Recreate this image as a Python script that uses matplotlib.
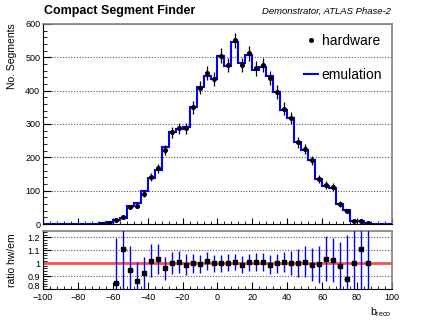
import matplotlib
matplotlib.use("Agg")
import matplotlib.pyplot as plt
import matplotlib.transforms as mtransforms
import numpy as np
from matplotlib.lines import Line2D
from matplotlib.ticker import MultipleLocator

plt.rcParams["font.family"] = ["Liberation Sans", "DejaVu Sans"]
plt.rcParams["mathtext.fontset"] = "custom"
plt.rcParams["mathtext.rm"] = "Liberation Sans"

# binning of b_reco
bin_edges = np.arange(-100, 101, 4)
filled_centers = np.arange(-66, 87, 4)

emulation_counts = [2, 5, 13, 18, 54, 64, 99, 137, 162, 232, 275, 284, 290, 350, 412,
                    444, 436, 505, 475, 547, 482, 508, 462, 472, 443, 396, 343, 318,
                    245, 223, 193, 136, 113, 108, 61, 43, 9, 9, 3]
hardware_counts = [1, 4, 11, 20, 51, 55, 91, 140, 167, 223, 275, 287, 287, 350, 409,
                   453, 436, 505, 477, 551, 477, 512, 467, 477, 439, 396, 346, 318,
                   245, 226, 191, 135, 117, 111, 60, 38, 9, 10, 3]

ratio_centers = np.arange(-58, 87, 4)
ratio_values = [0.845, 1.11, 0.945, 0.862, 0.922, 1.021, 1.031, 0.961, 1.0, 1.011,
                0.99, 0.998, 0.993, 1.02, 1.0, 1.0, 1.005, 1.008, 0.99, 1.008,
                1.01, 1.01, 0.99, 1.0, 1.01, 1.0, 1.0, 1.013, 0.99, 0.992,
                1.036, 1.026, 0.982, 0.88, 1.0, 1.11, 1.0]
ratio_errors = [0.35, 0.45, 0.19, 0.15, 0.13, 0.125, 0.115, 0.09, 0.085, 0.085,
                0.078, 0.075, 0.072, 0.07, 0.065, 0.065, 0.065, 0.062, 0.065, 0.065,
                0.07, 0.07, 0.072, 0.072, 0.08, 0.095, 0.11, 0.117, 0.13, 0.143,
                0.177, 0.17, 0.18, 0.34, 0.5, 0.5, 0.5]

# put the filled bins into the full 50-bin histogram
bin_centers = 0.5 * (bin_edges[:-1] + bin_edges[1:])
em_full = np.zeros(len(bin_centers))
idx = np.searchsorted(bin_centers, filled_centers)
em_full[idx] = emulation_counts
hw = np.array(hardware_counts, dtype=float)

fig = plt.figure(figsize=(4.36, 3.30), dpi=100)
ax = fig.add_axes([0.0986, 0.3212, 0.8005, 0.6061])
rax = fig.add_axes([0.0986, 0.1242, 0.8005, 0.1758])

blue = "#0000ff"
frame_gray = "#7f7f7f"

# main panel
ax.stairs(em_full, bin_edges, color=blue, linewidth=1.5, zorder=3)
ax.errorbar(filled_centers, hw, yerr=np.sqrt(hw), xerr=1.3, fmt="o", color="black",
            markersize=2.6, elinewidth=0.9, capsize=0, zorder=4)

ax.set_xlim(-100, 100)
ax.set_ylim(0, 600)
ax.yaxis.set_major_locator(MultipleLocator(100))
ax.yaxis.set_minor_locator(MultipleLocator(20))
ax.xaxis.set_major_locator(MultipleLocator(20))
ax.xaxis.set_minor_locator(MultipleLocator(4))
ax.tick_params(axis="both", which="both", direction="in", labelsize=6.5)
ax.tick_params(axis="y", which="major", length=5.5, pad=2)
ax.tick_params(axis="y", which="minor", length=3)
ax.tick_params(axis="x", which="major", length=4)
ax.tick_params(axis="x", which="minor", length=2)
ax.tick_params(axis="x", labelbottom=False)
ax.grid(axis="y", linestyle=(0, (1, 1.5)), linewidth=0.8, color="#555555")
for side in ("top", "right"):
    ax.spines[side].set_color(frame_gray)
    ax.spines[side].set_linewidth(1.2)

legend_handles = [
    Line2D([], [], marker="o", linestyle="none", color="black", markersize=2.6),
    Line2D([], [], color=blue, linewidth=1.5),
]
ax.legend(legend_handles, ["hardware", "emulation"], loc="upper right",
          bbox_to_anchor=(1.0, 1.0), frameon=False, fontsize=10,
          handlelength=1.0, handletextpad=0.3, labelspacing=1.45,
          borderaxespad=0.3)

fig.text(0.101, 0.966, "Compact Segment Finder", fontsize=9, fontweight="bold",
         ha="left", va="center")
fig.text(0.897, 0.966, "Demonstrator, ATLAS Phase-2", fontsize=6.8, style="italic",
         ha="right", va="center")
fig.text(0.027, 0.93, "No. Segments", fontsize=7.5, rotation=90, ha="center", va="top")

# ratio panel
rax.axhline(1.0, color="#ff4d4d", linewidth=2.0, zorder=2)
rax.errorbar(ratio_centers, ratio_values, yerr=ratio_errors, xerr=1.3, fmt="s",
             color=blue, ecolor=blue, markerfacecolor="black",
             markeredgecolor="black", markersize=3, elinewidth=1.0, capsize=0,
             zorder=3)
rax.set_xlim(-100, 100)
rax.set_ylim(0.8, 1.25)
rax.yaxis.set_major_locator(MultipleLocator(0.1))
rax.yaxis.set_minor_locator(MultipleLocator(0.02))
rax.xaxis.set_major_locator(MultipleLocator(20))
rax.xaxis.set_minor_locator(MultipleLocator(4))
rax.set_yticks([0.8, 0.9, 1.0, 1.1, 1.2])
rax.set_yticklabels(["0.8", "0.9", "1", "1.1", "1.2"])
rax.tick_params(axis="both", which="both", direction="in", labelsize=6.5)
rax.tick_params(axis="y", which="major", length=5.5, pad=2)
rax.tick_params(axis="y", which="minor", length=3)
rax.tick_params(axis="x", which="major", length=5, pad=3)
rax.tick_params(axis="x", which="minor", length=2.5)
rax.grid(axis="y", linestyle=(0, (1, 1.5)), linewidth=0.8, color="#555555")
for side in ("top", "right"):
    rax.spines[side].set_color(frame_gray)
    rax.spines[side].set_linewidth(1.2)

# lift the lowest ratio label a little so it clears the x labels
lowest_label = rax.get_yticklabels()[0]
lowest_label.set_transform(lowest_label.get_transform()
                           + mtransforms.ScaledTranslation(0, 2.5 / 72, fig.dpi_scale_trans))

fig.text(0.027, 0.212, "ratio hw/em", fontsize=7.5, rotation=90, ha="center",
         va="center")
fig.text(0.899, 0.045, r"b$_{\rm reco}$", fontsize=7.5, ha="right", va="baseline")

fig.savefig("out.png", dpi=100)
